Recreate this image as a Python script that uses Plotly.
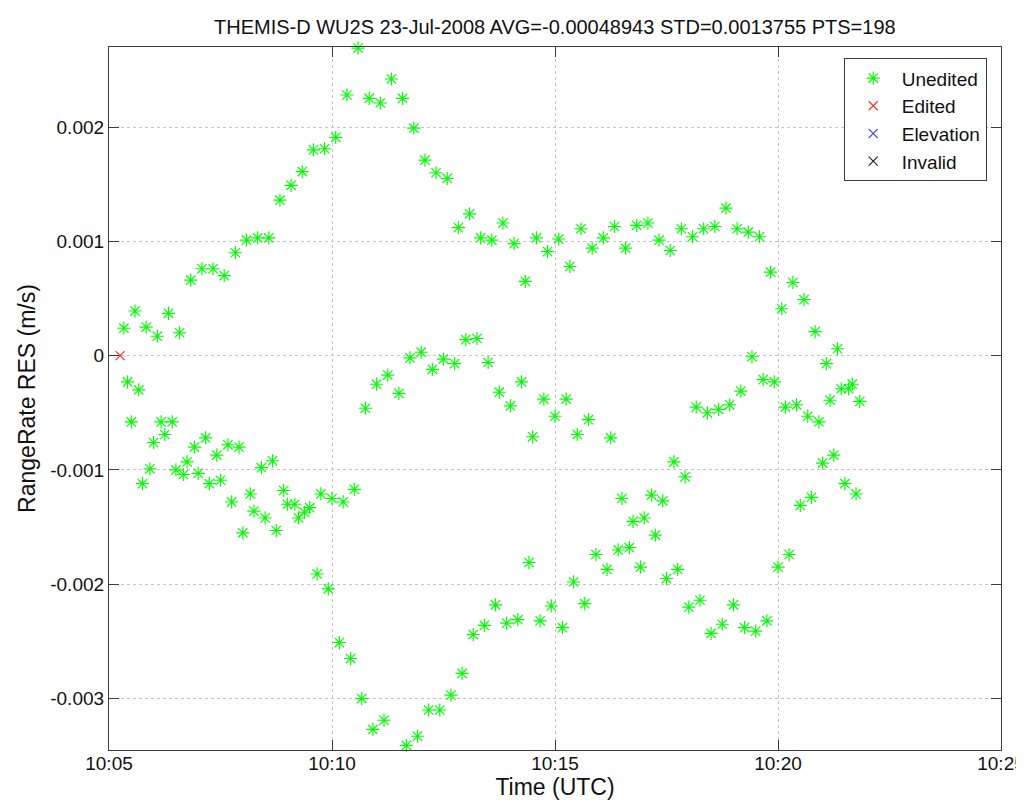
import pandas as pd
import plotly.graph_objects as go

# ---------------- data ----------------
base_time = "2008-07-23 10:05:00"

# Unedited residuals: seconds after 10:05:00 and RangeRate residual (m/s)
unedited_sec = [
    # upper arc
    20, 35, 50, 65, 80, 95, 110, 125, 140, 155, 170, 185, 200, 215, 230, 245, 260,
    275, 290, 305, 320, 335, 350, 365, 380, 395, 410, 425, 440, 455, 470, 485, 500,
    515, 530, 545, 560, 575, 590, 605, 620, 635, 650, 665, 680, 695, 710, 725, 740,
    755, 770, 785, 800, 815, 830, 845, 860, 875, 890, 905, 920, 935, 950, 965, 980,
    # middle track
    345, 360, 375, 390, 405, 420, 435, 450, 465, 480, 495, 510, 525, 540, 555, 570,
    585, 600, 615, 630, 645, 675, 690, 730, 745, 760, 775, 790, 805, 820, 835, 850,
    865, 880, 895, 910, 925, 940, 955, 970, 985, 995, 1000, 1010,
    # lower track
    960, 975, 990, 1005, 945, 930, 915, 900, 885, 870, 855, 840, 825, 810, 795, 780,
    765, 750, 735, 720, 705, 715, 700, 685, 670, 655, 640, 625, 610, 595, 580, 565,
    550, 535, 520, 505, 490, 475, 460, 445, 430, 415, 400, 385, 370, 355, 340, 325,
    310, 295, 280,
    # lower-left cluster
    25, 40, 30, 70, 85, 75, 60, 55, 45, 90, 100, 105, 115, 130, 120, 135, 145, 150,
    160, 165, 175, 180, 190, 195, 205, 210, 220, 225, 235, 240, 250, 255, 263, 270,
    285, 300, 315, 330,
]
unedited_val = [
    # upper arc
    0.00024, 0.00039, 0.00025, 0.00017, 0.00037, 0.00020, 0.00066, 0.00076, 0.00076,
    0.00070, 0.00090, 0.00101, 0.00103, 0.00103, 0.00136, 0.00149, 0.00161, 0.00180,
    0.00181, 0.00191, 0.00228, 0.00269, 0.00225, 0.00221, 0.00242, 0.00225, 0.00199,
    0.00171, 0.00160, 0.00155, 0.00112, 0.00124, 0.00103, 0.00101, 0.00116, 0.00098,
    0.00065, 0.00103, 0.00091, 0.00102, 0.00078, 0.00111, 0.00094, 0.00103, 0.00113,
    0.00094, 0.00114, 0.00116, 0.00101, 0.00092, 0.00111, 0.00104, 0.00111, 0.00113,
    0.00129, 0.00111, 0.00108, 0.00104, 0.00073, 0.00041, 0.00064, 0.00049, 0.00021,
    -0.00007, 0.00006,
    # middle track
    -0.00046, -0.00025, -0.00017, -0.00033, -0.00002, 0.00003, -0.00012, -0.00003,
    -0.00007, 0.00014, 0.00015, -0.00006, -0.00032, -0.00044, -0.00023, -0.00071,
    -0.00038, -0.00053, -0.00038, -0.00069, -0.00056, -0.00072, -0.00125, -0.00122,
    -0.00127, -0.00093, -0.00106, -0.00045, -0.00050, -0.00047, -0.00043, -0.00031,
    -0.00001, -0.00021, -0.00023, -0.00045, -0.00043, -0.00053, -0.00058, -0.00039,
    -0.00029, -0.00029, -0.00025, -0.00040,
    # lower track
    -0.00094, -0.00087, -0.00112, -0.00121, -0.00124, -0.00131, -0.00174, -0.00185,
    -0.00232, -0.00241, -0.00238, -0.00218, -0.00235, -0.00243, -0.00214, -0.00220,
    -0.00187, -0.00195, -0.00157, -0.00142, -0.00145, -0.00185, -0.00168, -0.00170,
    -0.00187, -0.00174, -0.00217, -0.00198, -0.00238, -0.00219, -0.00232, -0.00181,
    -0.00231, -0.00234, -0.00218, -0.00236, -0.00244, -0.00278, -0.00297, -0.00310,
    -0.00310, -0.00333, -0.00341, -0.00346, -0.00319, -0.00327, -0.00300, -0.00265,
    -0.00251, -0.00204, -0.00191,
    # lower-left cluster
    -0.00023, -0.00030, -0.00058, -0.00058, -0.00058, -0.00069, -0.00076, -0.00099,
    -0.00112, -0.00100, -0.00104, -0.00093, -0.00080, -0.00072, -0.00103, -0.00112,
    -0.00087, -0.00109, -0.00078, -0.00128, -0.00080, -0.00155, -0.00121, -0.00136,
    -0.00098, -0.00142, -0.00092, -0.00153, -0.00118, -0.00130, -0.00130, -0.00142,
    -0.00137, -0.00133, -0.00121, -0.00125, -0.00128, -0.00117,
]

edited_sec = [15]
edited_val = [0.0]

y_tick_vals = [-0.003, -0.002, -0.001, 0.0, 0.001, 0.002]
y_tick_text = ["-0.003", "-0.002", "-0.001", "0", "0.001", "0.002"]

title_text = "THEMIS-D WU2S 23-Jul-2008 AVG=-0.00048943 STD=0.0013755 PTS=198"

# ---------------- figure ----------------
t0 = pd.Timestamp(base_time)
to_time = lambda secs: [t0 + pd.Timedelta(seconds=s) for s in secs]

FONT = "Liberation Sans, Arial, Helvetica, sans-serif"
AXC = "#3a3a3a"

fig = go.Figure()
fig.add_trace(go.Scatter(
    x=to_time(unedited_sec), y=unedited_val, mode="markers", name="Unedited",
    marker=dict(symbol="asterisk-open", size=11, color="#00ff00",
                line=dict(color="#00ff00", width=1.15)),
    cliponaxis=False,
))
fig.add_trace(go.Scatter(
    x=to_time(edited_sec), y=edited_val, mode="markers", name="Edited",
    marker=dict(symbol="x-thin-open", size=9, color="#ff3030",
                line=dict(color="#ff3030", width=1.2)),
    cliponaxis=False,
))
fig.add_trace(go.Scatter(
    x=[None], y=[None], mode="markers", name="Elevation",
    marker=dict(symbol="x-thin-open", size=9, color="#5050ff",
                line=dict(color="#5050ff", width=1.2)),
))
fig.add_trace(go.Scatter(
    x=[None], y=[None], mode="markers", name="Invalid",
    marker=dict(symbol="x-thin-open", size=9, color="#222222",
                line=dict(color="#222222", width=1.2)),
))

fig.update_layout(
    width=1024, height=802,
    margin=dict(l=101, r=31, t=39, b=60, autoexpand=False),
    paper_bgcolor="white", plot_bgcolor="white",
    font=dict(family=FONT, size=19, color="#111111"),
    title=dict(text=title_text, x=0.534, xanchor="center", y=1 - 19 / 802,
               yref="container", yanchor="middle",
               font=dict(family=FONT, size=20, color="#111111")),
    showlegend=True,
    legend=dict(x=0.984, xanchor="right", y=0.984, yanchor="top",
                bgcolor="white", bordercolor=AXC, borderwidth=1,
                font=dict(family=FONT, size=19, color="#111111"),
                tracegroupgap=0, itemwidth=47),
)

fig.update_xaxes(
    type="date", automargin=False,
    range=[t0, t0 + pd.Timedelta(minutes=20)],
    dtick=300000, tick0=t0, tickformat="%H:%M",
    ticks="inside", ticklen=10, tickcolor=AXC, tickwidth=1,
    ticklabelstandoff=-4,
    showline=True, linecolor=AXC, linewidth=1.2, mirror="ticks",
    showgrid=True, gridcolor="#c4c4c4", griddash="dot", gridwidth=1,
    zeroline=False,
    title=dict(text="Time (UTC)", standoff=0),
    tickfont=dict(size=19),
)
fig.update_yaxes(
    automargin=False,
    range=[-0.00345, 0.0027],
    tickvals=y_tick_vals, ticktext=y_tick_text,
    ticks="inside", ticklen=10, tickcolor=AXC, tickwidth=1,
    showline=True, linecolor=AXC, linewidth=1.2, mirror="ticks",
    showgrid=True, gridcolor="#c4c4c4", griddash="dot", gridwidth=1,
    zeroline=False,
    title=dict(text="RangeRate RES (m/s)", standoff=8),
    tickfont=dict(size=19),
)

fig.write_html("out.html")
